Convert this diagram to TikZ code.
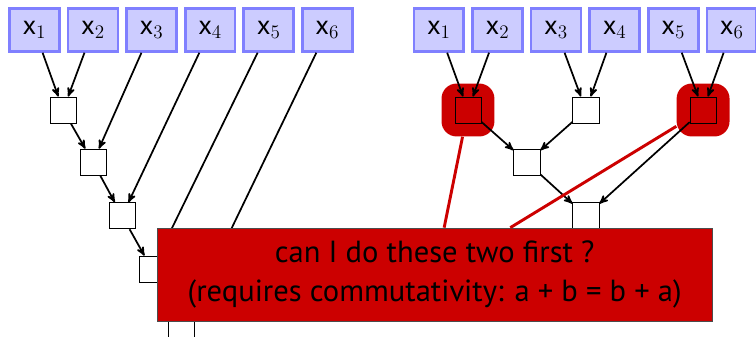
\documentclass[tikz,border=0pt]{standalone}
\usepackage{fontspec}
\setsansfont{PT Sans}
\usepackage{tikz}
\usetikzlibrary{arrows,positioning,calc}

\begin{document}
\begin{tikzpicture}[
    input/.style={rectangle, draw=blue!50, fill=blue!20, line width=2pt,
        minimum width=1.32cm, minimum height=1.14cm, inner sep=0pt,
        font=\fontsize{20}{24}\selectfont\sffamily},
    sum/.style={rectangle, draw=black, line width=0.6pt, minimum size=0.69cm,
        inner sep=0pt},
    blob/.style={rectangle, fill=red!80!black, rounded corners=0.4cm,
        minimum size=1.40cm},
    note/.style={rectangle, draw=black!70, fill=red!80!black, align=center,
        minimum width=14.69cm, minimum height=2.46cm,
        font=\fontsize{23}{29}\selectfont\sffamily},
    line/.style={draw, -stealth', line width=1.3pt},
    hint/.style={draw=red!80!black, line width=2.2pt}]

    \useasboundingbox (0,0) rectangle (20,-8.89);

    % ====== Left: sequential sum ======
    \node [input] (lx1) at (0.91,-0.79)  {x$_1$};
    \node [input] (lx2) at (2.46,-0.79)  {x$_2$};
    \node [input] (lx3) at (4.01,-0.79)  {x$_3$};
    \node [input] (lx4) at (5.56,-0.79)  {x$_4$};
    \node [input] (lx5) at (7.11,-0.79)  {x$_5$};
    \node [input] (lx6) at (8.66,-0.79)  {x$_6$};

    \node [sum] (ls1) at (1.67,-2.91) {};
    \node [sum] (ls2) at (2.46,-4.29) {};
    \node [sum] (ls3) at (3.23,-5.71) {};
    \node [sum] (ls4) at (4.02,-7.12) {};
    \node [sum] (ls5) at (4.79,-8.81) {};

    % ====== Right: tree sum ======
    \node [blob] (blobA) at (12.38,-2.91) {};
    \node [blob] (blobC) at (18.60,-2.91) {};

    \node [input] (rx1) at (11.61,-0.79) {x$_1$};
    \node [input] (rx2) at (13.16,-0.79) {x$_2$};
    \node [input] (rx3) at (14.71,-0.79) {x$_3$};
    \node [input] (rx4) at (16.26,-0.79) {x$_4$};
    \node [input] (rx5) at (17.81,-0.79) {x$_5$};
    \node [input] (rx6) at (19.36,-0.79) {x$_6$};

    \node [sum] (rsA) at (12.38,-2.91) {};
    \node [sum] (rsB) at (15.50,-2.91) {};
    \node [sum] (rsC) at (18.60,-2.91) {};
    \node [sum] (rsD) at (13.94,-4.29) {};
    \node [sum] (rsE) at (15.50,-5.71) {};

    % ====== Lines ======
    \path [line] (lx1) -- (ls1);
    \path [line] (lx2) -- (ls1);
    \path [line] (ls1) -- (ls2);
    \path [line] (lx3) -- (ls2);
    \path [line] (ls2) -- (ls3);
    \path [line] (lx4) -- (ls3);
    \path [line] (ls3) -- (ls4);
    \path [line] (lx5) -- (ls4);
    \path [line] (ls4) -- (ls5);
    \path [line] (lx6) -- (ls5);

    \path [line] (rx1) -- (rsA);
    \path [line] (rx2) -- (rsA);
    \path [line] (rx3) -- (rsB);
    \path [line] (rx4) -- (rsB);
    \path [line] (rx5) -- (rsC);
    \path [line] (rx6) -- (rsC);
    \path [line] (rsA) -- (rsD);
    \path [line] (rsB) -- (rsD);
    \path [line] (rsD) -- (rsE);
    \path [line] (rsC) -- (rsE);

    % ====== Question ======
    \node [note] (question) at (11.50,-7.26)
        {can I do these two first ?\\(requires commutativity: a + b = b + a)};
    \coordinate (qA) at ($(question.north west)!0.517!(question.north east)$);
    \coordinate (qC) at ($(question.north west)!0.636!(question.north east)$);

    \path [hint] (blobA) -- (qA);
    \path [hint] (blobC) -- (qC);
\end{tikzpicture}
\end{document}
